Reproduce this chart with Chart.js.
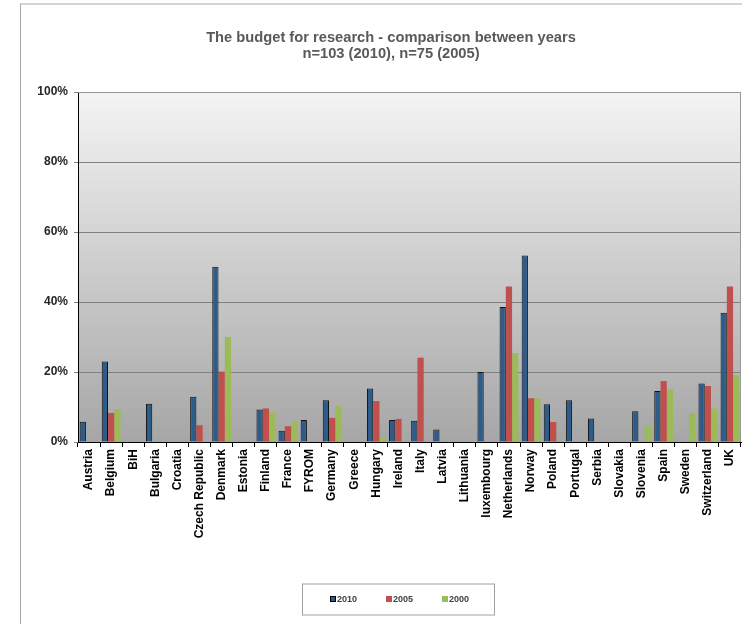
<!DOCTYPE html>
<html>
<head>
<meta charset="utf-8">
<script src="https://cdn.jsdelivr.net/npm/chart.js@4.4.0/dist/chart.umd.min.js"></script>
<style>
  html, body { margin: 0; padding: 0; background: #fff; overflow: hidden; width: 742px; height: 624px; }
  #frame { position: absolute; left: 20px; top: 3px; width: 800px; height: 700px;
           border-left: 1px solid #a6a6a6; border-top: 2px solid #d4d4d4; }
  #wrap { position: absolute; left: 20px; top: 0; width: 742px; height: 624px; }
</style>
</head>
<body>
<div id="frame"></div>
<div id="wrap"><canvas id="budgetChart" width="742" height="624"></canvas></div>
<script>
const countries = ['Austria', 'Belgium', 'BiH', 'Bulgaria', 'Croatia', 'Czech Republic', 'Denmark',
    'Estonia', 'Finland', 'France', 'FYROM', 'Germany', 'Greece', 'Hungary', 'Ireland', 'Italy',
    'Latvia', 'Lithuania', 'luxembourg', 'Netherlands', 'Norway', 'Poland', 'Portugal', 'Serbia',
    'Slovakia', 'Slovenia', 'Spain', 'Sweden', 'Switzerland', 'UK'];
const values2010 = [5.8, 23.0, 0, 10.9, 0, 12.9, 50.1, 0, 9.3, 3.2, 6.3, 11.9, 0, 15.3, 6.3, 6.1,
    3.6, 0, 20.0, 38.6, 53.3, 10.8, 11.9, 6.7, 0, 8.8, 14.6, 0, 16.7, 36.9];
const values2005 = [0, 8.3, 0, 0, 0, 4.8, 20.1, 0, 9.6, 4.5, 0, 6.9, 0, 11.7, 6.6, 24.1,
    0, 0, 0, 44.4, 12.5, 5.7, 0, 0, 0, 0, 17.4, 0, 16.0, 44.4];
const values2000 = [0, 9.3, 0, 0, 0, 0, 30.0, 0, 8.5, 5.8, 0, 10.3, 0, 1.4, 0, 0,
    0, 0, 0, 25.4, 12.5, 0, 0, 0, 0, 4.6, 15.0, 8.3, 9.6, 19.1];
const yTicks = [0, 20, 40, 60, 80, 100];

const FONT = '"Liberation Sans", Arial, sans-serif';

// plot background gradient + grey top/right border
const plotBackground = {
    id: 'plotBackground',
    afterLayout(chart) {
        // the original chart is wider than the window, so its title sits right of centre
        if (chart.titleBlock) chart.titleBlock.left += 21;
    },
    beforeDraw(chart) {
        const { ctx, chartArea: a } = chart;
        const g = ctx.createLinearGradient(0, a.top, 0, a.bottom);
        g.addColorStop(0, '#f4f4f4');
        g.addColorStop(1, '#a6a6a6');
        ctx.save();
        ctx.fillStyle = g;
        ctx.fillRect(a.left, a.top, a.right - a.left, a.bottom - a.top);
        ctx.restore();
    },
    afterDraw(chart) {
        const { ctx, chartArea: a } = chart;
        ctx.save();
        ctx.strokeStyle = '#9a9a9a';
        ctx.lineWidth = 1;
        ctx.beginPath();
        ctx.moveTo(a.left, a.top + 0.5);
        ctx.lineTo(a.right - 0.5, a.top + 0.5);
        ctx.lineTo(a.right - 0.5, a.bottom);
        ctx.stroke();
        ctx.restore();
    }
};

// boxed legend under the chart
const boxLegend = {
    id: 'boxLegend',
    afterDraw(chart) {
        const ctx = chart.ctx;
        const cx = 378, cy = 599, boxW = 192, boxH = 31;
        ctx.save();
        ctx.fillStyle = '#fff';
        ctx.fillRect(cx - boxW / 2, cy - boxH / 2, boxW, boxH);
        ctx.strokeStyle = '#a0a0a0';
        ctx.lineWidth = 1;
        ctx.strokeRect(cx - boxW / 2 + 0.5, cy - boxH / 2 + 0.5, boxW, boxH);
        ctx.font = 'bold 9px ' + FONT;
        ctx.textBaseline = 'middle';
        const step = 56;
        chart.data.datasets.forEach((ds, i) => {
            const x = cx - 68 + i * step;
            ctx.fillStyle = ds.backgroundColor;
            ctx.fillRect(x, cy - 3, 6, 6);
            if (ds.borderWidth) {
                ctx.strokeStyle = '#000';
                ctx.strokeRect(x + 0.5, cy - 2.5, 5, 5);
            }
            ctx.fillStyle = '#404040';
            ctx.fillText(ds.label, x + 7, cy + 0.5);
        });
        ctx.restore();
    }
};

const ctx = document.getElementById('budgetChart').getContext('2d');
new Chart(ctx, {
    type: 'bar',
    data: {
        labels: countries,
        datasets: [
            { label: '2010', data: values2010, backgroundColor: '#2d5b8a', borderColor: '#111', borderWidth: 1 },
            { label: '2005', data: values2005, backgroundColor: '#c0504d', borderWidth: 0 },
            { label: '2000', data: values2000, backgroundColor: '#9bbb59', borderWidth: 0 }
        ]
    },
    options: {
        responsive: false,
        animation: false,
        events: [],
        layout: { padding: { left: 0, right: 21, top: 0, bottom: 0 } },
        datasets: { bar: { categoryPercentage: 0.85, barPercentage: 1.0 } },
        plugins: {
            legend: { display: false },
            tooltip: { enabled: false },
            title: {
                display: true,
                text: ['The budget for research - comparison between years', 'n=103 (2010), n=75 (2005)'],
                color: '#595959',
                font: { family: FONT, size: 14.7, weight: 'bold', lineHeight: 1.09 },
                padding: { top: 29.5, bottom: 30.5 }
            }
        },
        scales: {
            x: {
                offset: true,
                afterFit: (scale) => { scale.height = 182; },
                grid: { display: true, drawOnChartArea: false, drawTicks: true, tickLength: 5, color: '#000' },
                border: { display: true, color: '#000', width: 1 },
                ticks: {
                    autoSkip: false, minRotation: 90, maxRotation: 90, padding: 2,
                    color: '#000', font: { family: FONT, size: 12, weight: 'bold' }
                }
            },
            y: {
                min: 0,
                max: 100,
                afterFit: (scale) => { scale.width = 58; },
                afterBuildTicks: (scale) => { scale.ticks = yTicks.map(v => ({ value: v })); },
                grid: { color: '#808080', tickColor: '#808080', tickLength: 4, lineWidth: 1 },
                border: { display: true, color: '#000', width: 1 },
                ticks: {
                    padding: 6, color: '#262626',
                    font: { family: FONT, size: 12, weight: 'bold' },
                    callback: (v) => v + '%'
                }
            }
        }
    },
    plugins: [plotBackground, boxLegend]
});
</script>
</body>
</html>
